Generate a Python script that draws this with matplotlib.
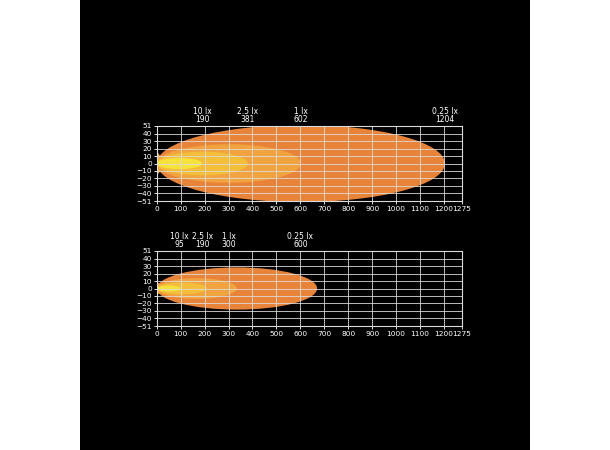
import matplotlib
matplotlib.use("Agg")
import matplotlib.pyplot as plt
from matplotlib.patches import Ellipse, Polygon, Rectangle
from matplotlib import font_manager
from matplotlib.transforms import blended_transform_factory

# font: narrow sans if present
names = {f.name for f in font_manager.fontManager.ttflist}
FONT = "Liberation Sans Narrow" if "Liberation Sans Narrow" in names else "DejaVu Sans"
plt.rcParams['font.family'] = [FONT, 'DejaVu Sans']

# ---------------- data ----------------
lux_names = ["10 lx", "2.5 lx", "1 lx", "0.25 lx"]

# top lamp: label distances, drawn reach, half width of each isolux zone
top_dist = [190, 381, 602, 1204]
top_reach = [190, 381, 602, 1204]
top_half = [7.5, 16, 26, 52]

# bottom lamp
bot_dist = [95, 190, 300, 600]
bot_reach = [100, 210, 335, 670]
bot_half = [4, 8, 14, 28.5]

# small flare near the lamp (x, y)
flare_top_x = [0, 25, 25, 0]
flare_top_y = [17, 5, -5, -17]
flare_bot_x = [0, 20, 20, 0]
flare_bot_y = [10, 3, -3, -10]

x_ticks = [0, 100, 200, 300, 400, 500, 600, 700, 800, 900, 1000, 1100, 1200, 1275]
y_ticks = [51, 40, 30, 20, 10, 0, -10, -20, -30, -40, -51]

zone_colors = ["#f6e23a", "#f3be3a", "#f0a33e", "#e8843a"]
grid_col = "#dcdcdc"

fig = plt.figure(figsize=(6.1, 4.5), dpi=100)
fig.patch.set_facecolor("white")
fig.patches.append(Rectangle((80 / 610, 0), 450 / 610, 1, transform=fig.transFigure,
                             facecolor="black", edgecolor="none", zorder=-10))

def panel(rect, dist, reach, half, fx, fy):
    ax = fig.add_axes(rect)
    ax.set_zorder(2)
    ax.set_facecolor("black")
    ax.set_xlim(0, 1275)
    ax.set_ylim(-51, 51)
    # zones, widest first
    for i in range(3, -1, -1):
        ax.add_patch(Ellipse((reach[i] / 2, 0), reach[i], 2 * half[i],
                             facecolor=zone_colors[i], edgecolor="none", zorder=1))
        if i == 2:
            ax.add_patch(Polygon(list(zip(fx, fy)), closed=True, facecolor=zone_colors[2],
                                 edgecolor="none", zorder=1))
    for x in x_ticks:
        ax.axvline(x, color=grid_col, lw=0.7, alpha=0.85, zorder=3)
    for y in y_ticks:
        ax.axhline(y, color=grid_col, lw=0.7, alpha=0.85, zorder=3)
    ax.set_xticks(x_ticks)
    ax.set_yticks(y_ticks)
    ax.tick_params(colors="white", labelsize=5.3, length=2, width=0.6, pad=1.5)
    for s in ax.spines.values():
        s.set_color(grid_col)
        s.set_linewidth(0.8)
    tr = blended_transform_factory(ax.transData, ax.transAxes)
    for name, d in zip(lux_names, dist):
        ax.text(d, 1.02, name + "\n" + str(d), transform=tr, ha="center", va="bottom",
                color="white", fontsize=5.5, linespacing=0.85)
    return ax

panel([156.7 / 610, 1 - 201.3 / 450, 305.3 / 610, 75.6 / 450],
      top_dist, top_reach, top_half, flare_top_x, flare_top_y)
panel([156.7 / 610, 1 - 326.3 / 450, 305.3 / 610, 75.6 / 450],
      bot_dist, bot_reach, bot_half, flare_bot_x, flare_bot_y)

fig.savefig("out.png", dpi=100)
